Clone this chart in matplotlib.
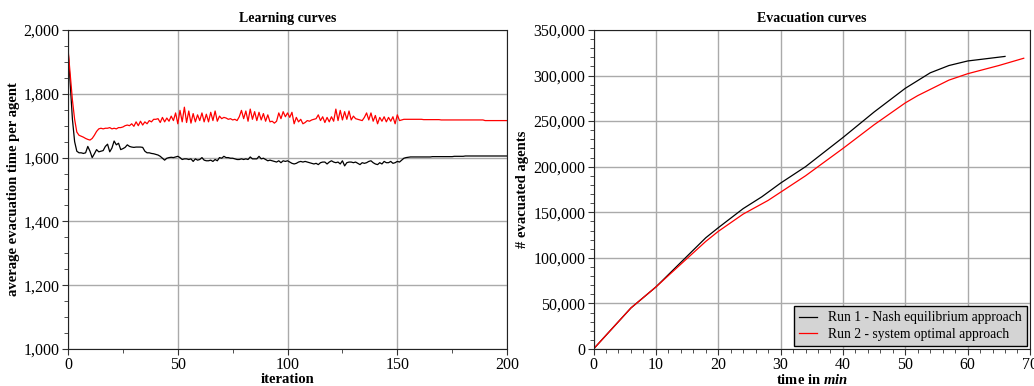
import matplotlib.pyplot as plt
from matplotlib.ticker import MultipleLocator, FuncFormatter
import numpy as np

plt.rcParams['font.family'] = ['Liberation Serif', 'DejaVu Serif']
plt.rcParams['mathtext.fontset'] = 'custom'
plt.rcParams['mathtext.bfit'] = 'Liberation Serif:italic:bold'
plt.rcParams['mathtext.it'] = 'Liberation Serif:italic'
plt.rcParams['mathtext.bf'] = 'Liberation Serif:bold'
plt.rcParams['mathtext.rm'] = 'Liberation Serif'

# Learning curves: average evacuation time per agent, iterations 0..200
learn_black = [
    1940, 1830, 1720, 1650, 1620, 1615, 1615, 1613, 1615, 1635,
    1620, 1600, 1612, 1625, 1618, 1620, 1622, 1635, 1642, 1618,
    1630, 1652, 1640, 1645, 1625, 1628, 1632, 1640, 1635, 1633,
    1632, 1633, 1633, 1633, 1632, 1620, 1615, 1615, 1613, 1612,
    1610, 1608, 1604, 1598, 1592, 1598, 1600, 1601, 1600, 1602,
    1604, 1600, 1594, 1596, 1596, 1594, 1596, 1588, 1596, 1592,
    1594, 1600, 1592, 1590, 1590, 1592, 1588, 1594, 1590, 1600,
    1598, 1604, 1600, 1600, 1598, 1598, 1596, 1594, 1594, 1596,
    1594, 1596, 1594, 1602, 1596, 1596, 1596, 1604, 1596, 1598,
    1594, 1590, 1592, 1590, 1588, 1586, 1590, 1584, 1590, 1588,
    1590, 1586, 1582, 1580, 1582, 1586, 1588, 1586, 1588, 1586,
    1584, 1582, 1580, 1582, 1578, 1584, 1586, 1586, 1580, 1586,
    1590, 1586, 1584, 1586, 1580, 1590, 1574, 1584, 1586, 1586,
    1584, 1586, 1582, 1578, 1584, 1582, 1584, 1588, 1590, 1584,
    1580, 1578, 1584, 1580, 1588, 1584, 1584, 1588, 1582, 1584,
    1588, 1586, 1592, 1598, 1600, 1601, 1602, 1602, 1602, 1602,
    1602, 1602, 1602, 1602, 1602, 1602, 1603, 1603, 1603, 1603,
    1603, 1603, 1603, 1603, 1603, 1603, 1604, 1604, 1604, 1604,
    1604, 1605, 1605, 1605, 1605, 1605, 1605, 1605, 1605, 1605,
    1605, 1605, 1605, 1605, 1605, 1605, 1605, 1605, 1605, 1605,
    1605,
]
learn_red = [
    1940, 1860, 1780, 1720, 1680, 1670, 1667, 1664, 1660, 1657,
    1655, 1660, 1670, 1682, 1690, 1692, 1690, 1692, 1692, 1694,
    1690, 1692, 1690, 1694, 1694, 1696, 1700, 1702, 1700, 1706,
    1698, 1712, 1700, 1714, 1702, 1712, 1706, 1716, 1712, 1720,
    1720, 1722, 1710, 1726, 1712, 1724, 1714, 1730, 1716, 1740,
    1706, 1748, 1712, 1758, 1710, 1746, 1708, 1738, 1712, 1734,
    1716, 1740, 1712, 1736, 1712, 1742, 1716, 1746, 1714, 1730,
    1722, 1726, 1724, 1720, 1722, 1718, 1720, 1716, 1728, 1748,
    1722, 1746, 1714, 1752, 1720, 1744, 1716, 1742, 1718, 1738,
    1714, 1734, 1712, 1714, 1708, 1714, 1740, 1722, 1744, 1728,
    1740, 1726, 1742, 1706, 1726, 1712, 1720, 1706, 1710, 1716,
    1714, 1718, 1720, 1722, 1734, 1716, 1728, 1710, 1726, 1712,
    1728, 1714, 1752, 1716, 1748, 1718, 1744, 1720, 1746, 1718,
    1730, 1722, 1720, 1718, 1716, 1726, 1740, 1718, 1740, 1714,
    1732, 1706, 1726, 1714, 1728, 1712, 1726, 1714, 1728, 1706,
    1734, 1716, 1718, 1720, 1720, 1720, 1720, 1720, 1720, 1720,
    1720, 1720, 1719, 1719, 1719, 1719, 1719, 1719, 1719, 1719,
    1718, 1718, 1718, 1718, 1718, 1718, 1718, 1718, 1718, 1718,
    1718, 1718, 1718, 1718, 1718, 1718, 1718, 1718, 1718, 1718,
    1716, 1716, 1716, 1716, 1716, 1716, 1716, 1716, 1716, 1716,
    1716,
]
iterations = np.arange(len(learn_black))

# Evacuation curves
nash_t = [0, 6, 10, 14, 18, 20, 24, 27, 30, 34, 40, 45, 50, 54, 57, 60, 66]
nash_n = [0, 45000, 68000, 95000, 122000, 133000, 154000, 167000, 182000,
          200000, 232000, 260000, 286000, 303000, 311000, 316000, 321000]
so_t = [0, 6, 10, 14, 18, 20, 24, 28, 30, 34, 40, 45, 50, 52, 57, 60, 65, 69]
so_n = [0, 45000, 68000, 93000, 118000, 129000, 148000, 163000, 172000,
        190000, 220000, 246000, 270000, 278000, 295000, 302000, 311000, 319000]
legend_labels = ['Run 1 - Nash equilibrium approach', 'Run 2 - system optimal approach']

fig = plt.figure(figsize=(10.34, 3.86), dpi=100)
ax1 = fig.add_axes([0.0658, 0.0959, 0.4246, 0.8264])
ax2 = fig.add_axes([0.574, 0.0959, 0.4221, 0.8264])

comma = FuncFormatter(lambda v, p: f'{int(v):,}')


def style(ax):
    ax.grid(True, which='major', color='#aaaaaa', linewidth=1.0)
    ax.set_axisbelow(True)
    ax.tick_params(which='major', direction='out', length=4, labelsize=11.5, color='#333333', pad=2)
    ax.tick_params(which='minor', direction='out', length=3, color='#333333')
    for s in ax.spines.values():
        s.set_color('#222222')
    ax.yaxis.set_major_formatter(comma)


ax1.plot(iterations, learn_black, color='black', linewidth=0.9)
ax1.plot(iterations, learn_red, color='red', linewidth=0.9)
ax1.set_xlim(0, 200)
ax1.set_ylim(1000, 2000)
ax1.xaxis.set_major_locator(MultipleLocator(50))
ax1.xaxis.set_minor_locator(MultipleLocator(25))
ax1.yaxis.set_major_locator(MultipleLocator(200))
ax1.yaxis.set_minor_locator(MultipleLocator(50))
style(ax1)
ax1.set_title('Learning curves', fontsize=10, fontweight='bold', pad=6)
ax1.set_xlabel('iteration', fontsize=10.5, fontweight='bold', labelpad=0)
ax1.set_ylabel('average evacuation time per agent', fontsize=10.5, fontweight='bold', labelpad=3)

ax2.plot(nash_t, nash_n, color='black', linewidth=0.9, label=legend_labels[0])
ax2.plot(so_t, so_n, color='red', linewidth=0.9, label=legend_labels[1])
ax2.set_xlim(0, 70)
ax2.set_ylim(0, 350000)
ax2.xaxis.set_major_locator(MultipleLocator(10))
ax2.xaxis.set_minor_locator(MultipleLocator(2))
ax2.yaxis.set_major_locator(MultipleLocator(50000))
ax2.yaxis.set_minor_locator(MultipleLocator(10000))
style(ax2)
ax2.set_title('Evacuation curves', fontsize=10, fontweight='bold', pad=6)
ax2.set_xlabel(r'time in $\mathbfit{min}$', fontsize=10.5, fontweight='bold', labelpad=0)
ax2.set_ylabel('# evacuated agents', fontsize=10.5, fontweight='bold', labelpad=3)
leg = ax2.legend(loc='lower right', fontsize=9.8, fancybox=False, framealpha=1,
                 borderaxespad=0.2, handlelength=1.3, borderpad=0.4, labelspacing=0.25)
leg.get_frame().set_facecolor('#d4d4d4')
leg.get_frame().set_edgecolor('black')

fig.savefig('out.png', dpi=100)
